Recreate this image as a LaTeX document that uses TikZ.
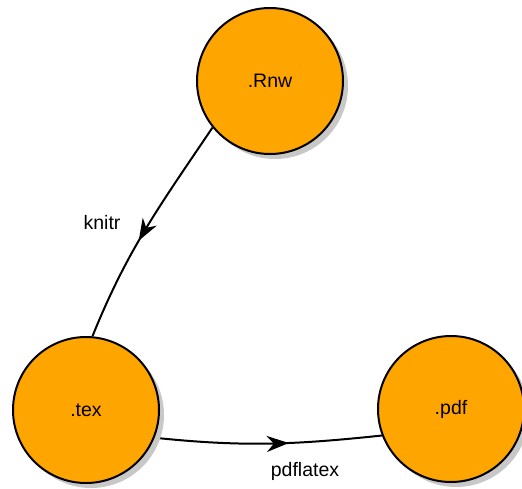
\documentclass[tikz,border=0pt]{standalone}
\usepackage{fontspec}
\setmainfont{Liberation Sans}
\usetikzlibrary{shadows,arrows.meta,decorations.markings,backgrounds}
\definecolor{fileorange}{RGB}{255,165,0}
\definecolor{shadowgray}{RGB}{200,200,200}
\tikzset{
  filenode/.style={circle, draw=black, line width=2pt, fill=fileorange,
    minimum size=146pt, inner sep=0pt, font=\fontsize{19.5}{23}\selectfont,
    drop shadow={shadow xshift=5pt, shadow yshift=-5pt, fill=shadowgray, opacity=1}},
  flowedge/.style={line width=2pt, draw=black,
    postaction={decorate},
    decoration={markings, mark=at position #1 with {\arrow{Stealth[length=22pt,width=16pt,inset=7pt]}}}},
  edgelabel/.style={font=\fontsize{19.5}{23}\selectfont, inner sep=0pt}
}
\begin{document}
\begin{tikzpicture}[x=1pt,y=1pt]
\useasboundingbox (0,0) rectangle (522,-488);
\node[filenode] (rnw) at (270,-81) {.Rnw};
\node[filenode] (tex) at (86,-410) {.tex};
\node[filenode] (pdf) at (451,-409) {.pdf};
\begin{scope}[on background layer]
\draw[flowedge=0.56] (rnw.219) to[out=236,in=68] (tex.85);
\draw[flowedge=0.59] (tex.-22) to[out=-6,in=186] (pdf.201);
\end{scope}
\node[edgelabel] (knitr) at (102,-223) {knitr};
\node[edgelabel] (pdflatex) at (305,-471) {pdflatex};
\end{tikzpicture}
\end{document}
